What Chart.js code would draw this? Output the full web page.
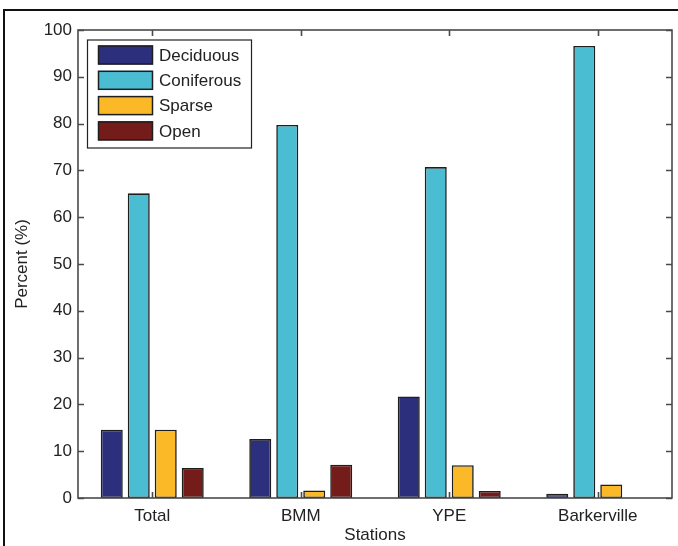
<!DOCTYPE html>
<html>
<head>
<meta charset="utf-8">
<title>Land cover by station</title>
<script src="https://cdn.jsdelivr.net/npm/chart.js@4.4.1/dist/chart.umd.min.js"></script>
<style>
  html, body { margin: 0; padding: 0; background: #fff; }
  #wrap { position: relative; width: 678px; height: 546px; overflow: hidden; }
  #frame {
    position: absolute; left: 3px; top: 9px; width: 700px; height: 600px;
    border-top: 2px solid #111; border-left: 2px solid #111;
    pointer-events: none;
  }
  canvas { display: block; }
</style>
</head>
<body>
<div id="wrap">
  <canvas id="c" width="678" height="546"></canvas>
  <div id="frame"></div>
</div>
<script>
// Stations along the x axis
const stations = ['Total', 'BMM', 'YPE', 'Barkerville'];

// Share of each land-cover class per station (%)
const deciduous  = [14.6, 12.6, 21.7, 0.9];
const coniferous = [65.1, 79.7, 70.7, 96.6];
const sparse     = [14.6, 1.6, 7.0, 2.9];
const open       = [6.4, 7.1, 1.5, 0];

const seriesNames  = ['Deciduous', 'Coniferous', 'Sparse', 'Open'];
const seriesColors = ['#2b2f7c', '#4bbdd3', '#fbb927', '#731c19'];

const FONT = "'Liberation Sans', Arial, Helvetica, sans-serif";
const TEXT = '#222';
const AXIS = '#4a4a4a';

// Boxed axes with inward ticks on all four sides
const boxAxes = {
  id: 'boxAxes',
  afterDatasetsDraw(chart) {
    const { ctx, chartArea: a, scales } = chart;
    const len = 6;
    ctx.save();
    ctx.strokeStyle = AXIS;
    ctx.lineWidth = 1.6;
    ctx.beginPath();
    scales.x.ticks.forEach((t, i) => {
      const px = Math.round(scales.x.getPixelForTick(i)) + 0.5;
      ctx.moveTo(px, a.bottom); ctx.lineTo(px, a.bottom - len);
      ctx.moveTo(px, a.top);    ctx.lineTo(px, a.top + len);
    });
    scales.y.ticks.forEach((t, i) => {
      const py = Math.round(scales.y.getPixelForTick(i)) + 0.5;
      ctx.moveTo(a.left, py);  ctx.lineTo(a.left + len, py);
      ctx.moveTo(a.right, py); ctx.lineTo(a.right - len, py);
    });
    ctx.stroke();
    ctx.strokeRect(a.left, a.top, a.right - a.left, a.bottom - a.top);
    ctx.restore();
  }
};

// Legend box drawn inside the upper-left corner of the plot
const insetLegend = {
  id: 'insetLegend',
  afterDraw(chart) {
    const { ctx, chartArea: a } = chart;
    const x0 = a.left + 9, y0 = a.top + 9.5;
    const w = 164, h = 108;
    const rowH = 25.3, sw = 55, sh = 19;
    ctx.save();
    ctx.fillStyle = '#fff';
    ctx.fillRect(x0, y0, w, h);
    ctx.strokeStyle = '#222';
    ctx.lineWidth = 1.2;
    ctx.strokeRect(x0 + 0.5, y0 + 0.5, w, h);
    ctx.font = '17px ' + FONT;
    ctx.textBaseline = 'middle';
    chart.data.datasets.forEach((ds, i) => {
      const sy = y0 + 6 + i * rowH;
      ctx.fillStyle = ds.backgroundColor;
      ctx.fillRect(x0 + 11, sy, sw, sh);
      ctx.strokeStyle = '#1e1e1e';
      ctx.lineWidth = 1.5;
      ctx.strokeRect(x0 + 11.5, sy + 0.5, sw - 1, sh - 1);
      ctx.fillStyle = TEXT;
      ctx.fillText(ds.label, x0 + 72, sy + sh / 2 + 1);
    });
    ctx.restore();
  }
};

const values = [deciduous, coniferous, sparse, open];

new Chart(document.getElementById('c'), {
  type: 'bar',
  data: {
    labels: stations,
    datasets: seriesNames.map((name, i) => ({
      label: name,
      data: values[i],
      backgroundColor: seriesColors[i],
      borderColor: '#1e1e1e',
      borderWidth: 1.6,
      borderSkipped: false,
      categoryPercentage: 0.727,
      barPercentage: 0.815
    }))
  },
  options: {
    responsive: false,
    animation: false,
    devicePixelRatio: 1,
    layout: { padding: { top: 30, right: 6, left: 0, bottom: 0 } },
    plugins: {
      legend: { display: false },
      tooltip: { enabled: false }
    },
    scales: {
      x: {
        grid: { display: false, drawTicks: false },
        border: { display: false },
        ticks: { color: TEXT, font: { family: FONT, size: 17 }, padding: 8 },
        title: {
          display: true, text: 'Stations', color: TEXT,
          font: { family: FONT, size: 17 }, padding: { top: 0, bottom: 0 }
        },
        afterFit(scale) { scale.height = 48; }
      },
      y: {
        min: 0, max: 100,
        grid: { display: false, drawTicks: false },
        border: { display: false },
        ticks: { stepSize: 10, color: TEXT, font: { family: FONT, size: 17 }, padding: 6 },
        title: {
          display: true, text: 'Percent (%)', color: TEXT,
          font: { family: FONT, size: 17 }, padding: { top: 12, bottom: 0 }
        },
        afterFit(scale) { scale.width = 78; }
      }
    }
  },
  plugins: [boxAxes, insetLegend]
});
</script>
</body>
</html>
